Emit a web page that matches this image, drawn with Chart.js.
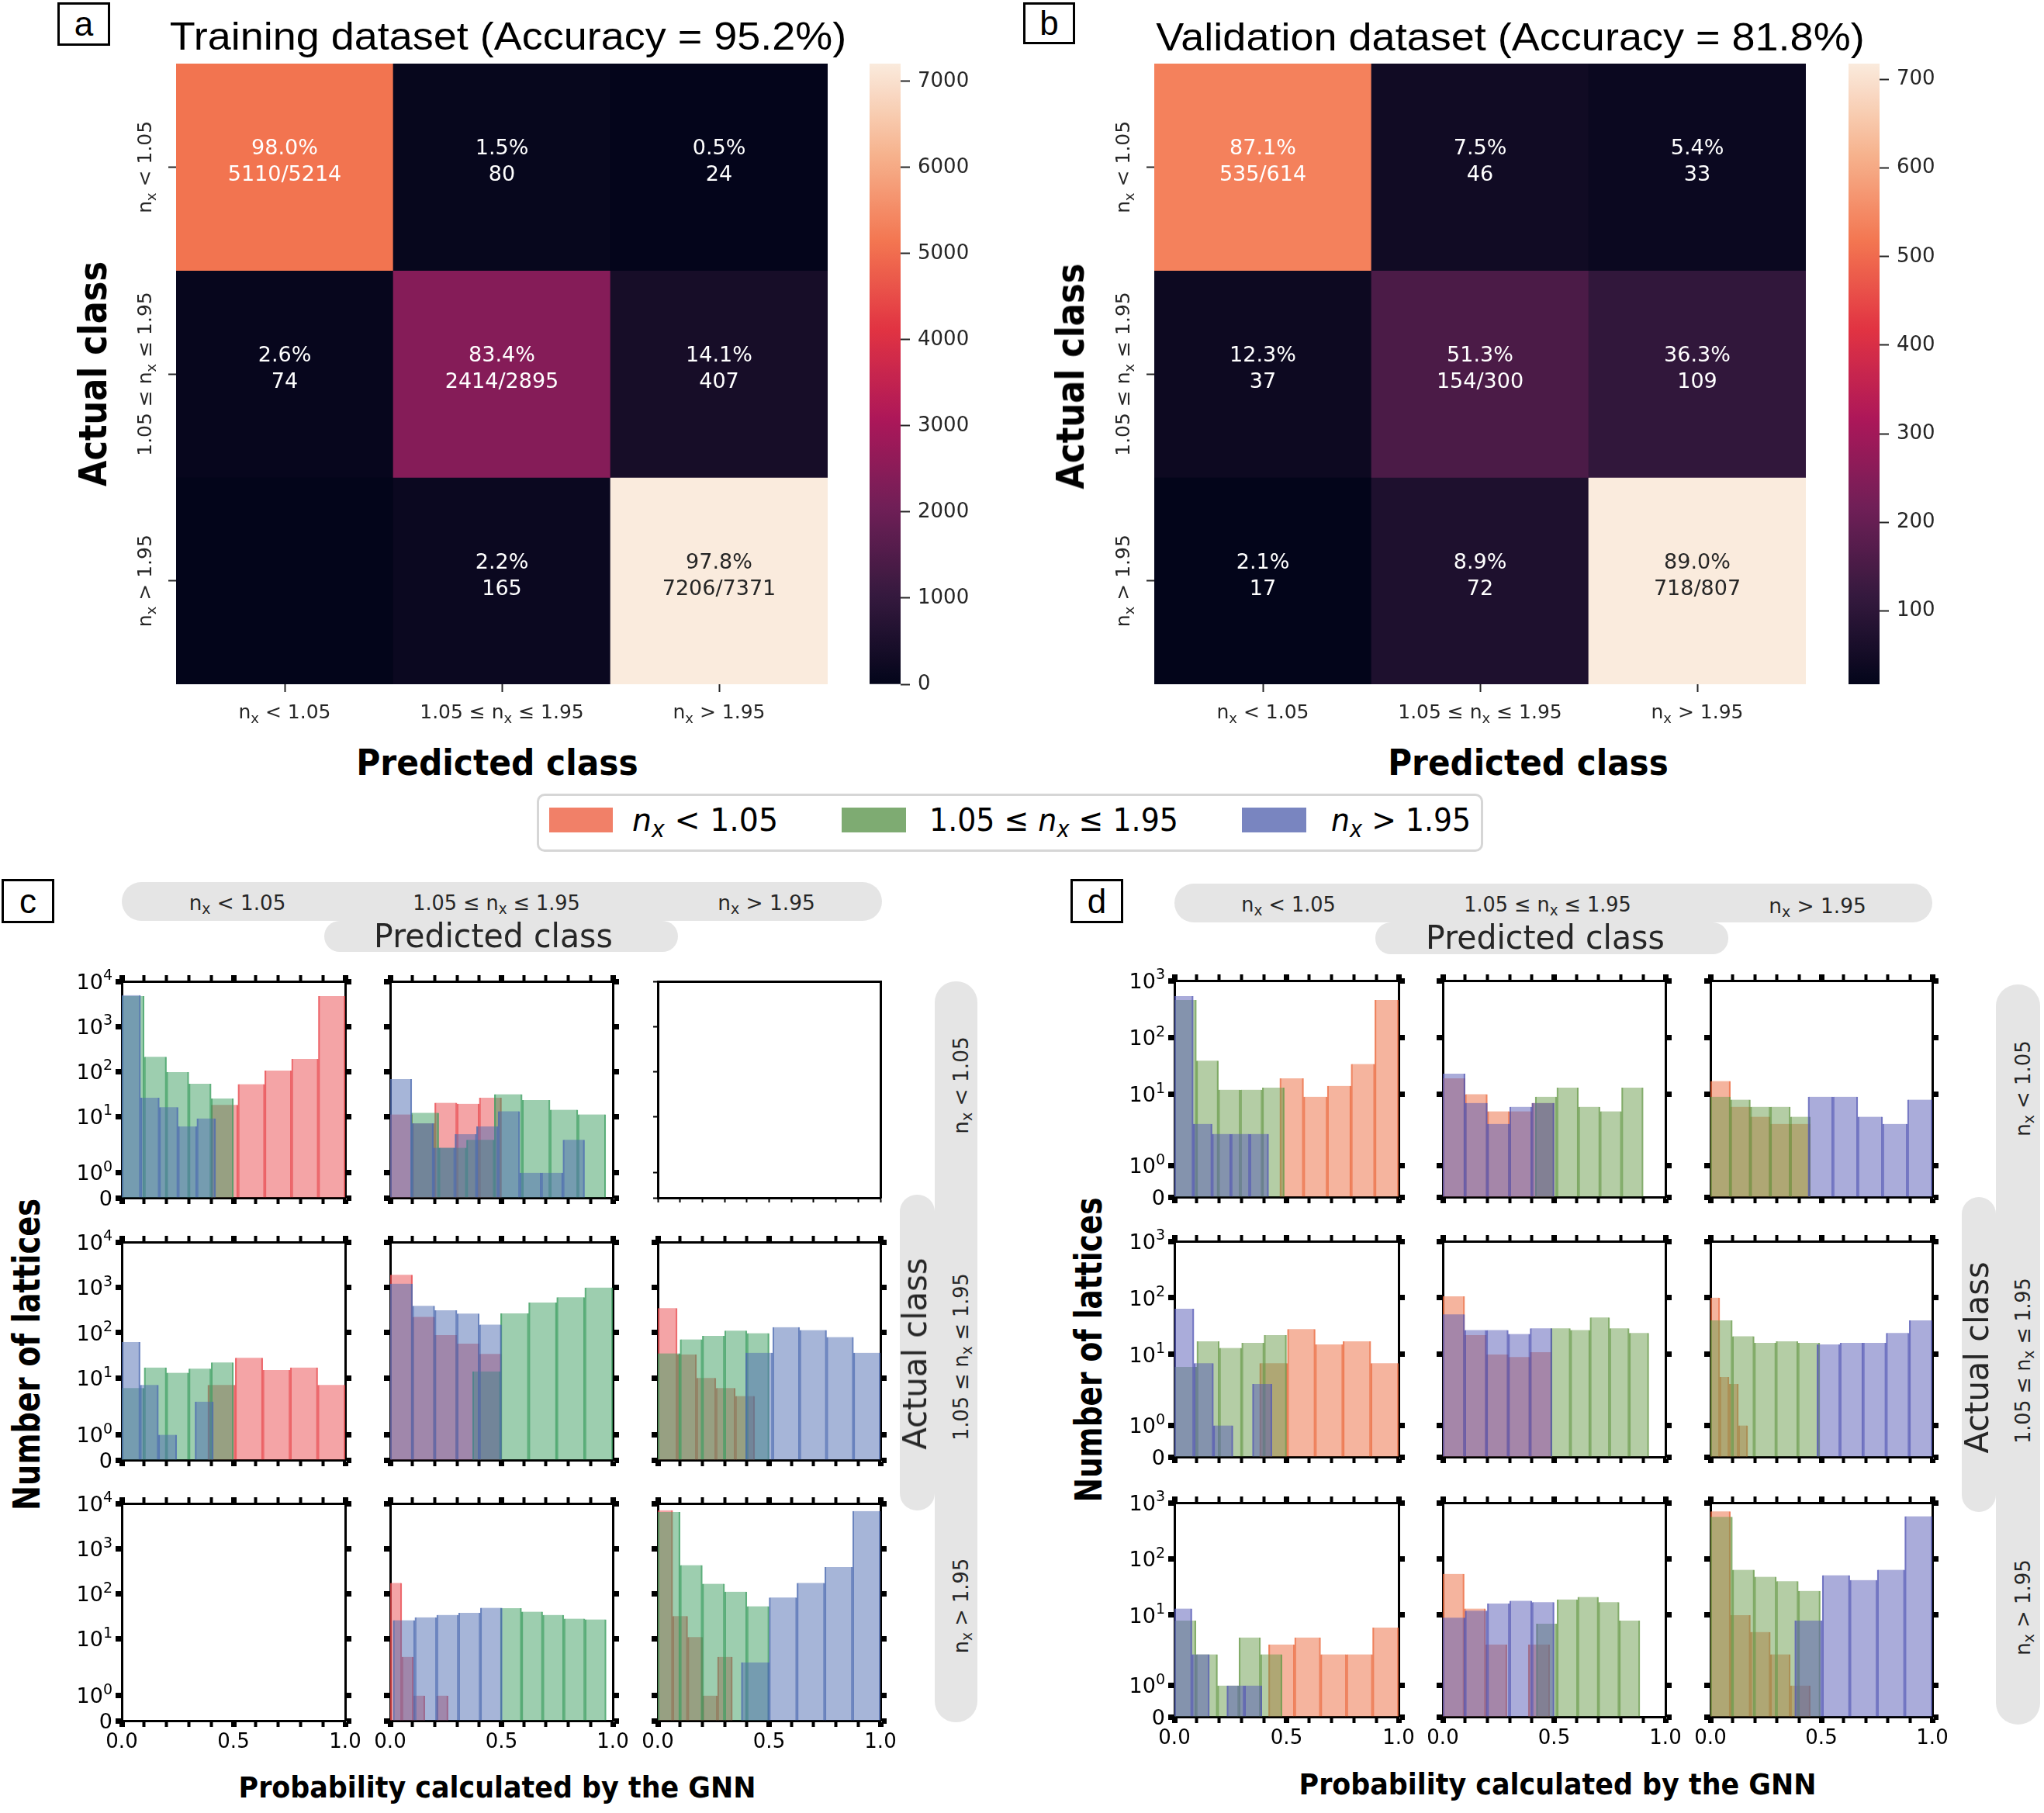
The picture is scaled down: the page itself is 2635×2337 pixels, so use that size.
<!DOCTYPE html>
<html><head><meta charset="utf-8">
<script src="https://cdn.jsdelivr.net/npm/chart.js@4.4.1/dist/chart.umd.min.js"></script>
<style>
html,body{margin:0;padding:0;background:#fff;}
body{width:2635px;height:2337px;position:relative;overflow:hidden;font-family:'DejaVu Sans',sans-serif;}
canvas{position:absolute;}
.lbl{position:absolute;white-space:nowrap;line-height:1;color:#000;transform-origin:50% 50%;}
.lbl sub{font-size:0.72em;vertical-align:-0.3em;line-height:0;}
.box{position:absolute;border:3px solid #000;box-sizing:border-box;background:#fff;display:flex;align-items:center;justify-content:center;font-family:'Liberation Sans',sans-serif;font-size:44px;line-height:1;}
.strip{position:absolute;background:#e5e5e5;}
.sw{position:absolute;}
</style></head><body>
<script>
// ================= DATA =================
// Confusion matrices (rows = actual class, columns = predicted class)
const CLASS_LABELS = ['nₓ < 1.05', '1.05 ≤ nₓ ≤ 1.95', 'nₓ > 1.95'];
const trainCounts  = [[5110, 80, 24], [74, 2414, 407], [0, 165, 7206]];
const trainPercent = [['98.0%', '1.5%', '0.5%'], ['2.6%', '83.4%', '14.1%'], ['', '2.2%', '97.8%']];
const trainDetail  = [['5110/5214', '80', '24'], ['74', '2414/2895', '407'], ['', '165', '7206/7371']];
const valCounts    = [[535, 46, 33], [37, 154, 109], [17, 72, 718]];
const valPercent   = [['87.1%', '7.5%', '5.4%'], ['12.3%', '51.3%', '36.3%'], ['2.1%', '8.9%', '89.0%']];
const valDetail    = [['535/614', '46', '33'], ['37', '154/300', '109'], ['17', '72', '718/807']];
const trainColorRange = [0, 7206];
const valColorRange   = [17, 718];
const trainColorbarTicks = [0, 1000, 2000, 3000, 4000, 5000, 6000, 7000];
const valColorbarTicks   = [100, 200, 300, 400, 500, 600, 700];

// Histogram tick values / labels
const HIST_X_TICKS  = [0, 0.1, 0.2, 0.3, 0.4, 0.5, 0.6, 0.7, 0.8, 0.9, 1.0];
const HIST_X_LABELS = ['0.0', '', '', '', '', '0.5', '', '', '', '', '1.0'];
const TRAIN_Y_TICKS  = [0, 1, 10, 100, 1000, 10000];
const TRAIN_Y_LABELS = ['0', '10⁰', '10¹', '10²', '10³', '10⁴'];
const VAL_Y_TICKS    = [0, 1, 10, 100, 1000];
const VAL_Y_LABELS   = ['0', '10⁰', '10¹', '10²', '10³'];

// Histograms: bins = [first bin start, bin width], counts per bin
// Training (panel c): trRC = actual row R, predicted column C
const tr11_red   = { bins: [0.40, 0.12],  counts: [18, 52, 104, 189, 4700] };
const tr11_green = { bins: [0, 0.10],     counts: [4700, 210, 96, 53, 25] };
const tr11_blue  = { bins: [0, 0.084],    counts: [4950, 26, 16, 6, 9] };
const tr12_red   = { bins: [0, 0.10],     counts: [11, 7, 20, 19, 26] };
const tr12_green = { bins: [0.093, 0.125],counts: [12, 2, 3, 31, 23, 14, 11] };
const tr12_blue  = { bins: [0, 0.097],    counts: [67, 7, 2, 4, 6, 13, 1, 1, 3] };
const tr21_red   = { bins: [0.385, 0.123],counts: [7, 28, 15, 17, 7] };
const tr21_green = { bins: [0, 0.10],     counts: [6, 17, 13, 16, 22] };
const tr21_blue  = { bins: [0, 0.082],    counts: [62, 7, 1, 0, 3] };
const tr22_red   = { bins: [0, 0.10],     counts: [1900, 224, 88, 57, 34] };
const tr22_green = { bins: [0.37, 0.126], counts: [14, 267, 464, 605, 989] };
const tr22_blue  = { bins: [0, 0.10],     counts: [1205, 391, 313, 263, 151] };
const tr23_red   = { bins: [0, 0.087],    counts: [348, 33, 10, 6, 4] };
const tr23_green = { bins: [0, 0.10],     counts: [35, 71, 85, 111, 97] };
const tr23_blue  = { bins: [0.395, 0.121],counts: [36, 132, 114, 80, 36] };
const tr32_red   = { bins: [0, 0.052],    counts: [174, 4, 1, 0, 1] };
const tr32_green = { bins: [0.495, 0.095],counts: [48, 40, 34, 28, 27] };
const tr32_blue  = { bins: [0.013, 0.098],counts: [26, 30, 34, 38, 49] };
const tr33_red   = { bins: [0, 0.067],    counts: [7050, 32, 11, 1, 4] };
const tr33_green = { bins: [0, 0.10],     counts: [6500, 430, 167, 111, 53] };
const tr33_blue  = { bins: [0.375, 0.125],counts: [3, 83, 174, 391, 6800] };

// Validation (panel d)
const va11_red   = { bins: [0.47, 0.106], counts: [19, 9, 14, 34, 455] };
const va11_green = { bins: [0, 0.098],    counts: [455, 39, 12, 12, 13] };
const va11_blue  = { bins: [0, 0.084],    counts: [533, 3, 2, 2, 2] };
const va12_red   = { bins: [0, 0.10],     counts: [19, 10, 5, 5, 7] };
const va12_green = { bins: [0.415, 0.097],counts: [9, 13, 6, 5, 13] };
const va12_blue  = { bins: [0, 0.10],     counts: [23, 7, 3, 6, 7] };
const va13_red   = { bins: [0, 0.09],     counts: [17, 6, 4, 3, 3] };
const va13_green = { bins: [0, 0.09],     counts: [9, 8, 6, 6, 4] };
const va13_blue  = { bins: [0.44, 0.112], counts: [9, 9, 4, 3, 8] };
const va21_red   = { bins: [0.38, 0.124], counts: [7, 28, 15, 17, 7] };
const va21_green = { bins: [0, 0.10],     counts: [6, 17, 13, 16, 22] };
const va21_blue  = { bins: [0, 0.087],    counts: [64, 7, 1, 0, 3] };
const va22_red   = { bins: [0, 0.098],    counts: [106, 22, 10, 9, 11] };
const va22_green = { bins: [0.485, 0.088],counts: [29, 27, 45, 29, 24] };
const va22_blue  = { bins: [0, 0.098],    counts: [51, 27, 27, 23, 29] };
const va23_red   = { bins: [0, 0.042],    counts: [101, 4, 3, 1, 0] };
const va23_green = { bins: [0, 0.0986],   counts: [40, 21, 16, 17, 16] };
const va23_blue  = { bins: [0.48, 0.104], counts: [15, 16, 16, 24, 40] };
const va31_red   = { bins: [0.42, 0.116], counts: [3, 4, 2, 2, 6] };
const va31_green = { bins: [0, 0.096],    counts: [8, 2, 1, 4, 2] };
const va31_blue  = { bins: [0, 0.078],    counts: [13, 2, 0, 1, 1] };
const va32_red   = { bins: [0, 0.096],    counts: [54, 13, 3, 0, 3] };
const va32_green = { bins: [0.42, 0.093], counts: [7, 19, 21, 17, 8] };
const va32_blue  = { bins: [0, 0.10],     counts: [9, 12, 16, 18, 17] };
const va33_red   = { bins: [0, 0.09],     counts: [700, 10, 5, 2, 1] };
const va33_green = { bins: [0, 0.099],    counts: [560, 64, 48, 40, 27] };
const va33_blue  = { bins: [0.38, 0.124], counts: [8, 51, 42, 64, 572] };

const trainGrid = [
  [[tr11_red, tr11_green, tr11_blue], [tr12_red, tr12_green, tr12_blue], null],
  [[tr21_red, tr21_green, tr21_blue], [tr22_red, tr22_green, tr22_blue], [tr23_red, tr23_green, tr23_blue]],
  [null, [tr32_red, tr32_green, tr32_blue], [tr33_red, tr33_green, tr33_blue]]
];
const valGrid = [
  [[va11_red, va11_green, va11_blue], [va12_red, va12_green, va12_blue], [va13_red, va13_green, va13_blue]],
  [[va21_red, va21_green, va21_blue], [va22_red, va22_green, va22_blue], [va23_red, va23_green, va23_blue]],
  [[va31_red, va31_green, va31_blue], [va32_red, va32_green, va32_blue], [va33_red, va33_green, va33_blue]]
];

// ================= STYLE =================
const C_COLORS = [['rgba(233,73,77,0.5)', 'rgba(233,73,77,0.8)'], ['rgba(59,157,95,0.5)', 'rgba(59,157,95,0.8)'], ['rgba(77,107,177,0.5)', 'rgba(77,107,177,0.8)']];
const D_COLORS = [['rgba(235,105,61,0.5)', 'rgba(235,105,61,0.8)'], ['rgba(105,155,75,0.5)', 'rgba(105,155,75,0.8)'], ['rgba(85,89,181,0.5)', 'rgba(85,89,181,0.8)']];
const ROCKET = [[0, 3, 5, 26], [1/7, 53, 25, 62], [2/7, 112, 31, 87], [3/7, 173, 23, 89], [4/7, 225, 51, 66], [5/7, 243, 118, 81], [6/7, 246, 180, 143], [1, 250, 235, 221]];
const FAM = "'DejaVu Sans'";

Chart.defaults.font.family = "'DejaVu Sans', sans-serif";
Chart.defaults.color = '#000';
Chart.defaults.animation = false;
Chart.defaults.responsive = false;
Chart.defaults.devicePixelRatio = 1;
Chart.defaults.plugins.legend.display = false;
Chart.defaults.plugins.tooltip.enabled = false;

function rocket(t) {
  t = Math.max(0, Math.min(1, t));
  for (let i = 1; i < ROCKET.length; i++) {
    if (t <= ROCKET[i][0]) {
      const a = ROCKET[i - 1], b = ROCKET[i];
      const f = (t - a[0]) / (b[0] - a[0]);
      return [1, 2, 3].map(k => Math.round(a[k] + f * (b[k] - a[k])));
    }
  }
  return ROCKET[ROCKET.length - 1].slice(1);
}
const rgb = c => `rgb(${c[0]},${c[1]},${c[2]})`;
function luminance(c) {
  const l = c.map(v => { v /= 255; return v <= 0.03928 ? v / 12.92 : Math.pow((v + 0.055) / 1.055, 2.4); });
  return 0.2126 * l[0] + 0.7152 * l[1] + 0.0722 * l[2];
}

// rich text helpers (subscript x, superscript exponents)
const SUP = { '⁰': '0', '¹': '1', '²': '2', '³': '3', '⁴': '4' };
function parseLabel(label) {
  const parts = [];
  let cur = '', mode = null;
  for (const ch of label) {
    let m = null, t = ch;
    if (ch === 'ₓ') { m = 'sub'; t = 'x'; } else if (SUP[ch]) { m = 'sup'; t = SUP[ch]; }
    if (m !== mode && cur) { parts.push({ t: cur, mode }); cur = ''; }
    mode = m; cur += t;
  }
  if (cur) parts.push({ t: cur, mode });
  return parts;
}
function drawRich(ctx, label, x, y, size, align) {
  const parts = parseLabel(label);
  const fontFor = p => `${p.mode ? Math.round(size * 0.72) : size}px ${FAM}`;
  let total = 0;
  parts.forEach(p => { ctx.font = fontFor(p); p.w = ctx.measureText(p.t).width; total += p.w; });
  let cx = align === 'center' ? x - total / 2 : align === 'right' ? x - total : x;
  const base = y + 0.36 * size;
  ctx.textAlign = 'left'; ctx.textBaseline = 'alphabetic';
  parts.forEach(p => {
    ctx.font = fontFor(p);
    const dy = p.mode === 'sub' ? 0.24 * size : p.mode === 'sup' ? -0.42 * size : 0;
    ctx.fillText(p.t, cx, base + dy);
    cx += p.w;
  });
}

// symlog (linthresh 2, linscale 1, base 10) scale
const LIN_T = 2, LIN_S = 1 / (1 - 1 / 10);
function symT(v) { const a = Math.abs(v); const r = a <= LIN_T ? a / LIN_T * LIN_S : LIN_S + Math.log10(a / LIN_T); return Math.sign(v) * r; }
function symInv(t) { const a = Math.abs(t); const r = a <= LIN_S ? a / LIN_S * LIN_T : LIN_T * Math.pow(10, a - LIN_S); return Math.sign(t) * r; }
class SymlogScale extends Chart.LinearScale {
  static id = 'symlog';
  static defaults = {};
  buildTicks() { return []; }
  configure() { super.configure(); this._t0 = symT(this.min); this._tr = symT(this.max) - this._t0; }
  getPixelForValue(v) { return this.getPixelForDecimal((symT(v) - this._t0) / this._tr); }
  getValueForPixel(p) { return symInv(this._t0 + this.getDecimalForPixel(p) * this._tr); }
}
Chart.register(SymlogScale);

function mkCanvas(x, y, w, h) {
  const c = document.createElement('canvas');
  c.width = w; c.height = h;
  c.style.left = x + 'px'; c.style.top = y + 'px';
  c.style.width = w + 'px'; c.style.height = h + 'px';
  document.body.appendChild(c);
  return c;
}

// ================= HEATMAPS =================
function makeHeat(left, top, counts, line1, line2, range) {
  const PL = 120, PR = 10, PT = 10, PB = 60, W = 840, H = 800;
  const cv = mkCanvas(left - PL, top - PT, W + PL + PR, H + PT + PB);
  const cellColor = counts.map(row => row.map(v => rocket((v - range[0]) / (range[1] - range[0]))));
  const textColor = cellColor.map(row => row.map(c => luminance(c) > 0.408 ? '#262626' : '#ffffff'));
  const datasets = counts.map((row, r) => ({
    data: row.map(() => [r, r + 1]),
    backgroundColor: cellColor[r].map(rgb),
    borderWidth: 0, barPercentage: 1, categoryPercentage: 1, grouped: false
  }));
  const heatPlugin = {
    id: 'heatText',
    afterDatasetsDraw(chart) {
      const ctx = chart.ctx;
      ctx.save();
      ctx.font = `27px ${FAM}`;
      ctx.textAlign = 'center'; ctx.textBaseline = 'middle';
      chart.data.datasets.forEach((ds, r) => {
        chart.getDatasetMeta(r).data.forEach((el, c) => {
          const cy = (el.y + el.base) / 2;
          ctx.fillStyle = textColor[r][c];
          ctx.fillText(line1[r][c], el.x, cy - 23);
          ctx.fillText(line2[r][c], el.x, cy + 11);
        });
      });
      ctx.restore();
    },
    afterDraw(chart) {
      const ctx = chart.ctx, ys = chart.scales.y, xs = chart.scales.x;
      ctx.save();
      ctx.fillStyle = '#262626';
      CLASS_LABELS.forEach((lab, i) => {
        ctx.save();
        ctx.translate(chart.chartArea.left - 41, ys.getPixelForValue(i + 0.5));
        ctx.rotate(-Math.PI / 2);
        drawRich(ctx, lab, 0, 0, 25, 'center');
        ctx.restore();
        drawRich(ctx, lab, xs.getPixelForTick(i), chart.chartArea.bottom + 35, 25, 'center');
      });
      ctx.restore();
    }
  };
  new Chart(cv, {
    type: 'bar',
    data: { labels: CLASS_LABELS, datasets },
    options: {
      layout: { padding: { top: PT, right: PR } },
      scales: {
        x: { type: 'category', offset: true,
             grid: { offset: false, drawOnChartArea: false, drawTicks: true, tickLength: 10, tickWidth: 2, tickColor: '#262626' },
             border: { display: false },
             ticks: { display: false },
             afterFit: s => { s.height = PB; } },
        y: { type: 'linear', min: 0, max: 3, reverse: true,
             afterBuildTicks: s => { s.ticks = [0.5, 1.5, 2.5].map(v => ({ value: v })); },
             ticks: { display: false },
             grid: { drawOnChartArea: false, drawTicks: true, tickLength: 10, tickWidth: 2, tickColor: '#262626' },
             border: { display: false },
             afterFit: s => { s.width = PL; } }
      }
    },
    plugins: [heatPlugin]
  });
}

function makeColorbar(left, top, range, ticks) {
  const PT = 30, PB = 60, W = 40, H = 800, PR = 150;
  const cv = mkCanvas(left, top - PT, W + PR, H + PT + PB);
  const grad = (c) => {
    const ch = c.chart, ys = ch.scales.y;
    if (!ch.chartArea || !ys) return '#000';
    const g = ch.ctx.createLinearGradient(0, ys.getPixelForValue(range[0]), 0, ys.getPixelForValue(range[1]));
    for (let k = 0; k <= 56; k++) g.addColorStop(k / 56, rgb(rocket(k / 56)));
    return g;
  };
  new Chart(cv, {
    type: 'bar',
    data: { labels: ['colorbar'], datasets: [{ data: [[range[0], range[1]]], backgroundColor: grad, borderWidth: 0, barPercentage: 1, categoryPercentage: 1 }] },
    options: {
      layout: { padding: { top: PT, bottom: PB } },
      scales: {
        x: { display: false },
        y: { position: 'right', min: range[0], max: range[1],
             afterBuildTicks: s => { s.ticks = ticks.map(v => ({ value: v })); },
             ticks: { font: { size: 26 }, color: '#262626', padding: 10, callback: v => String(v) },
             grid: { drawOnChartArea: false, drawTicks: true, tickLength: 12, tickWidth: 2, tickColor: '#262626' },
             border: { display: false },
             afterFit: s => { s.width = PR; } }
      }
    }
  });
}

// ================= HISTOGRAMS =================
const HP = { L: 80, R: 30, T: 24, B: 56 };
function makeHist(ax, series, o) {
  const [x0, x1, y0, y1] = ax;
  const w = x1 - x0, h = y1 - y0;
  const cv = mkCanvas(x0 - HP.L, y0 - HP.T, w + HP.L + HP.R, h + HP.T + HP.B);
  const ids = ['xr', 'xg', 'xb'];
  const datasets = [];
  if (series) series.forEach((s, k) => {
    const col = o.colors[k];
    datasets.push({
      xAxisID: ids[k], yAxisID: 'y',
      data: s.counts.map((c, i) => ({ x: s.bins[0] + (i + 0.5) * s.bins[1], y: c })),
      backgroundColor: col[0], borderColor: col[1],
      borderWidth: { left: 1.5, right: 1.5, top: 0, bottom: 0 },
      barPercentage: 1, categoryPercentage: 1, grouped: false, order: 3 - k
    });
  });
  const majorW = o.thin ? 2 : 7, minorW = o.thin ? 2 : 4;
  const xGrid = (show) => ({ offset: false, drawOnChartArea: false, drawTicks: show, tickLength: o.thin ? 6 : 8, tickColor: '#000',
    tickWidth: c => (HIST_X_LABELS[c.index] ? majorW : minorW) });
  const yGrid = (show) => ({ drawOnChartArea: false, drawTicks: show, tickLength: o.thin ? 6 : 8, tickColor: '#000', tickWidth: majorW });
  const hidden = { type: 'linear', display: false, min: 0, max: 1, offset: false, grid: { offset: false },
    afterBuildTicks: s => { s.ticks = [{ value: 0 }, { value: 1 }]; } };
  const xTicks = s => { s.ticks = HIST_X_TICKS.map(v => ({ value: v })); };
  const yTicks = s => { s.ticks = o.yTicks.map(v => ({ value: v })); };
  const yLabelPlugin = {
    id: 'yRichLabels',
    afterDraw(chart) {
      if (!o.yLabels) return;
      const ctx = chart.ctx, ys = chart.scales.y;
      ctx.save(); ctx.fillStyle = '#000';
      o.yTicks.forEach((v, i) => drawRich(ctx, o.yLabelsText[i], chart.chartArea.left - 12, ys.getPixelForValue(v), 27, 'right'));
      ctx.restore();
    }
  };
  new Chart(cv, {
    type: 'bar',
    data: { datasets },
    options: {
      scales: {
        x: { type: 'linear', position: 'bottom', min: 0, max: 1, offset: false, afterBuildTicks: xTicks,
             ticks: { display: o.xLabels, autoSkip: false, maxRotation: 0, minRotation: 0, padding: 5, font: { size: 26 }, color: '#000',
                      callback: (v, i) => HIST_X_LABELS[i] },
             grid: xGrid(true), border: { display: true, color: '#000', width: 3 },
             afterFit: s => { s.height = HP.B; } },
        xt: { type: 'linear', position: 'top', min: 0, max: 1, offset: false, afterBuildTicks: xTicks,
              ticks: { display: false }, grid: xGrid(!o.thin), border: { display: true, color: '#000', width: 3 },
              afterFit: s => { s.height = HP.T; } },
        y: { type: 'symlog', position: 'left', min: 0, max: o.ymax, afterBuildTicks: yTicks,
             ticks: { display: false },
             grid: yGrid(true), border: { display: true, color: '#000', width: 3 },
             afterFit: s => { s.width = HP.L; } },
        yr: { type: 'symlog', position: 'right', min: 0, max: o.ymax, afterBuildTicks: yTicks,
              ticks: { display: false }, grid: yGrid(!o.thin), border: { display: true, color: '#000', width: 3 },
              afterFit: s => { s.width = HP.R; } },
        xr: hidden, xg: hidden, xb: hidden
      }
    },
    plugins: [yLabelPlugin]
  });
}

// ================= HTML TEXT =================
function txt(html, x, y, o) {
  const el = document.createElement('div');
  el.className = 'lbl';
  el.innerHTML = html;
  el.style.fontFamily = o.family || FAM;
  el.style.fontSize = o.size + 'px';
  el.style.fontWeight = o.weight || 'normal';
  if (o.color) el.style.color = o.color;
  el.style.left = x + 'px'; el.style.top = y + 'px';
  document.body.appendChild(el);
  const s = o.width ? o.width / el.offsetWidth : 1;
  if (o.anchor === 'left') { el.style.transformOrigin = '0 50%'; el.style.transform = `translate(0,-50%) scaleX(${s})`; }
  else el.style.transform = `translate(-50%,-50%) rotate(${o.rot || 0}deg) scaleX(${s})`;
  return el;
}
function box(x, y, w, h, letter) {
  const el = document.createElement('div'); el.className = 'box';
  Object.assign(el.style, { left: x + 'px', top: y + 'px', width: w + 'px', height: h + 'px' });
  el.textContent = letter; document.body.appendChild(el);
}
function strip(x, y, w, h, r) {
  const el = document.createElement('div'); el.className = 'strip';
  Object.assign(el.style, { left: x + 'px', top: y + 'px', width: w + 'px', height: h + 'px', borderRadius: r + 'px' });
  document.body.appendChild(el);
}
function swatch(x, y, w, h, color) {
  const el = document.createElement('div'); el.className = 'sw';
  Object.assign(el.style, { left: x + 'px', top: y + 'px', width: w + 'px', height: h + 'px', background: color });
  document.body.appendChild(el);
}

// ================= BUILD =================
strip(157, 1137, 980, 50, 25); strip(418, 1187, 456, 40, 20);
strip(1514, 1139, 977, 50, 25); strip(1773, 1189, 455, 41, 20);
strip(1205, 1265, 55, 955, 27); strip(1160, 1540, 45, 407, 22);
strip(2573, 1269, 57, 954, 28); strip(2529, 1543, 44, 406, 22);

makeHeat(227, 82, trainCounts, trainPercent, trainDetail, trainColorRange);
makeColorbar(1121, 82, trainColorRange, trainColorbarTicks);
makeHeat(1488, 82, valCounts, valPercent, valDetail, valColorRange);
makeColorbar(2383, 82, valColorRange, valColorbarTicks);

const C_COLS = [[157, 445], [503, 790], [848, 1135]];
const C_ROWS = [[1265, 1544], [1601, 1882], [1938, 2218]];
const D_COLS = [[1514, 1803], [1860, 2147], [2205, 2491]];
const D_ROWS = [[1264, 1543], [1600, 1878], [1937, 2213]];
for (let r = 0; r < 3; r++) for (let c = 0; c < 3; c++) {
  makeHist([C_COLS[c][0], C_COLS[c][1], C_ROWS[r][0], C_ROWS[r][1]], trainGrid[r][c],
    { colors: C_COLORS, ymax: 10000, yTicks: TRAIN_Y_TICKS, yLabelsText: TRAIN_Y_LABELS, yLabels: c === 0, xLabels: r === 2, thin: (r === 0 && c === 2) });
  makeHist([D_COLS[c][0], D_COLS[c][1], D_ROWS[r][0], D_ROWS[r][1]], valGrid[r][c],
    { colors: D_COLORS, ymax: 1000, yTicks: VAL_Y_TICKS, yLabelsText: VAL_Y_LABELS, yLabels: c === 0, xLabels: r === 2, thin: false });
}

box(74, 3, 68, 56, 'a'); box(1319, 3, 67, 54, 'b'); box(2, 1133, 68, 57, 'c'); box(1380, 1133, 68, 57, 'd');

txt('Training dataset (Accuracy = 95.2%)', 655, 47, { size: 50, family: "'Liberation Sans'", width: 872 });
txt('Validation dataset (Accuracy = 81.8%)', 1947, 48, { size: 50, family: "'Liberation Sans'", width: 913 });
txt('Actual class', 120, 482, { size: 50, weight: 'bold', width: 290, rot: -90 });
txt('Actual class', 1380, 485, { size: 50, weight: 'bold', width: 291, rot: -90 });
txt('Predicted class', 641, 983, { size: 46, weight: 'bold', width: 364 });
txt('Predicted class', 1970, 983, { size: 46, weight: 'bold', width: 362 });

(function () {
  const el = document.createElement('div');
  Object.assign(el.style, { position: 'absolute', left: '692px', top: '1023px', width: '1220px', height: '75px', border: '3px solid #d6d6d6', borderRadius: '10px', boxSizing: 'border-box', background: '#fff' });
  document.body.appendChild(el);
})();
swatch(708, 1041, 82, 32, 'rgb(241,128,104)');
swatch(1085, 1041, 83, 32, 'rgb(126,171,114)');
swatch(1601, 1041, 83, 32, 'rgb(121,133,192)');
txt('<i>n</i><sub><i>x</i></sub> &lt; 1.05', 815, 1057, { size: 41, width: 188, anchor: 'left' });
txt('1.05 ≤ <i>n</i><sub><i>x</i></sub> ≤ 1.95', 1198, 1057, { size: 41, width: 321, anchor: 'left' });
txt('<i>n</i><sub><i>x</i></sub> &gt; 1.95', 1716, 1057, { size: 41, width: 180, anchor: 'left' });

const SL = { size: 27, color: '#262626' };
txt('n<sub>x</sub> &lt; 1.05', 306, 1163, { ...SL, width: 125 });
txt('1.05 ≤ n<sub>x</sub> ≤ 1.95', 640, 1163, { ...SL, width: 215 });
txt('n<sub>x</sub> &gt; 1.95', 988, 1163, { ...SL, width: 126 });
txt('Predicted class', 636, 1207, { size: 42, color: '#262626', width: 308 });
txt('n<sub>x</sub> &lt; 1.05', 1661, 1165, { ...SL, width: 122 });
txt('1.05 ≤ n<sub>x</sub> ≤ 1.95', 1995, 1165, { ...SL, width: 215 });
txt('n<sub>x</sub> &gt; 1.95', 2343, 1167, { ...SL, width: 126 });
txt('Predicted class', 1992, 1209, { size: 42, color: '#262626', width: 308 });

txt('n<sub>x</sub> &lt; 1.05', 1238, 1399, { ...SL, width: 126, rot: -90 });
txt('1.05 ≤ n<sub>x</sub> ≤ 1.95', 1238, 1749, { ...SL, width: 215, rot: -90 });
txt('n<sub>x</sub> &gt; 1.95', 1238, 2070, { ...SL, width: 123, rot: -90 });
txt('Actual class', 1180, 1745, { size: 42, color: '#262626', width: 247, rot: -90 });
txt('n<sub>x</sub> &lt; 1.05', 2607, 1403, { ...SL, width: 124, rot: -90 });
txt('1.05 ≤ n<sub>x</sub> ≤ 1.95', 2607, 1754, { ...SL, width: 213, rot: -90 });
txt('n<sub>x</sub> &gt; 1.95', 2607, 2072, { ...SL, width: 124, rot: -90 });
txt('Actual class', 2549, 1750, { size: 42, color: '#262626', width: 247, rot: -90 });

txt('Number of lattices', 34, 1746, { size: 48, weight: 'bold', width: 402, rot: -90 });
txt('Number of lattices', 1403, 1740, { size: 48, weight: 'bold', width: 393, rot: -90 });
txt('Probability calculated by the GNN', 641, 2304, { size: 37, weight: 'bold', width: 667 });
txt('Probability calculated by the GNN', 2008, 2300, { size: 37, weight: 'bold', width: 667 });
</script>
</body></html>
